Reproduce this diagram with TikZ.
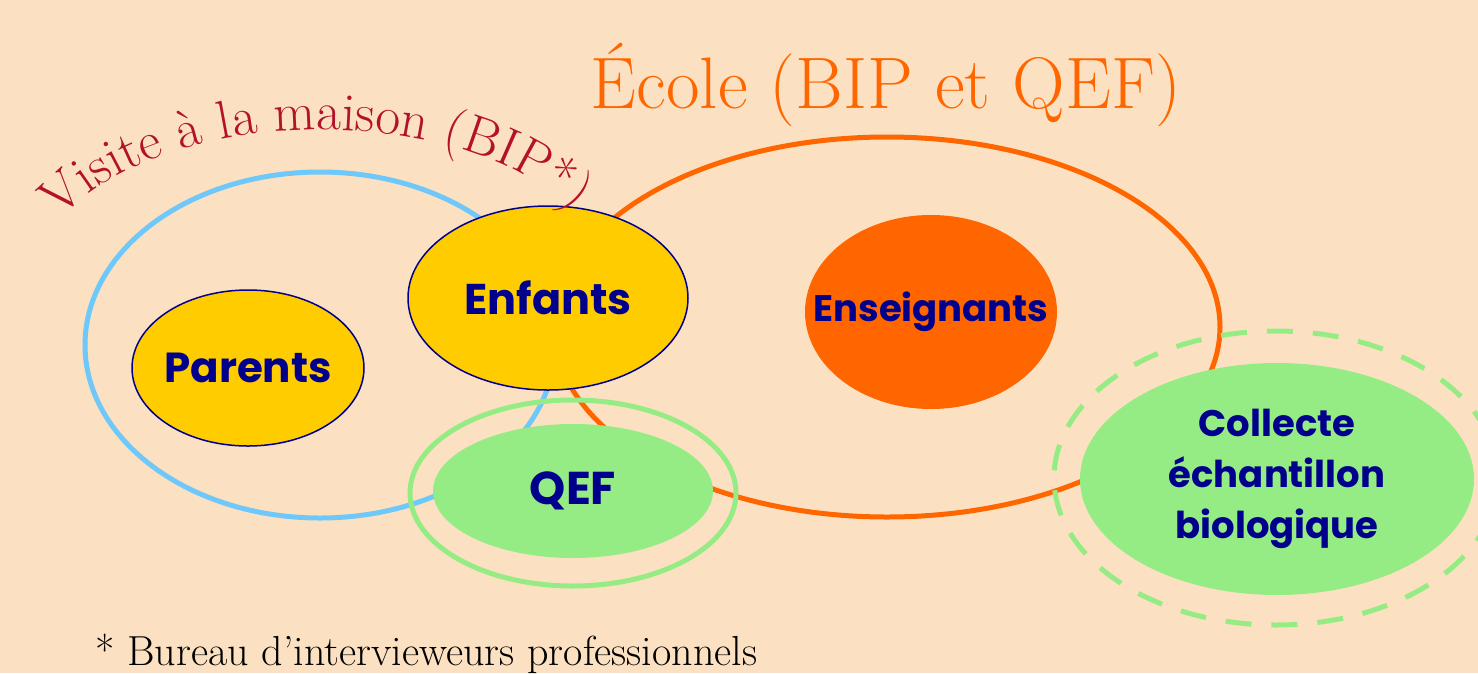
\documentclass[tikz,border=0pt]{standalone}
\usepackage{fontspec}
\usepackage{xcolor}
\usetikzlibrary{shapes.geometric, decorations.text}
\newfontfamily\labelfont{Poppins}
\definecolor{peach}{RGB}{251,225,193}
\definecolor{skyline}{RGB}{110,200,250}
\definecolor{ecoleorange}{RGB}{255,102,0}
\definecolor{goldfill}{RGB}{255,204,0}
\definecolor{inkblue}{RGB}{0,0,140}
\definecolor{leafgreen}{RGB}{150,236,132}
\definecolor{visitred}{RGB}{180,18,40}

\begin{document}
\begin{tikzpicture}[x=1pt, y=-1pt,
        group/.style={ellipse, inner sep=0pt, line width=5pt},
        blob/.style={ellipse, inner sep=0pt},
        blobtext/.style={text=inkblue, font=\labelfont\bfseries\fontsize{43}{50}\selectfont, align=center}]
        %\tikzset{ring/.style={dashed}}
        \useasboundingbox[fill=peach] (0,0) rectangle (1478,673);

        \node[group, draw=skyline, minimum width=470, minimum height=346] (maison) at (320,345) {};
        \node[group, draw=ecoleorange, minimum width=666, minimum height=380] (ecole) at (887,327) {};

        \node[blob, fill=ecoleorange, minimum width=252, minimum height=194,
            label={[blobtext, font=\labelfont\bfseries\fontsize{37}{44}\selectfont]center:Enseignants}] (enseignants) at (931,312) {};
        \node[blob, fill=goldfill, draw=inkblue, line width=1.5pt, minimum width=232, minimum height=156,
            label={[blobtext, font=\labelfont\bfseries\fontsize{42}{50}\selectfont]center:Parents}] (parents) at (248,368) {};
        \node[blob, fill=goldfill, draw=inkblue, line width=1.5pt, minimum width=280, minimum height=184,
            label={[blobtext]center:Enfants}] (enfants) at (548,298) {};

        \node[blob, fill=leafgreen, minimum width=280, minimum height=134,
            label={[blobtext, font=\labelfont\bfseries\fontsize{46}{50}\selectfont]center:QEF}] (qef) at (573,491) {};
        \node[group, draw=leafgreen, minimum width=326, minimum height=186] (qefring) at (573,493) {};

        \node[blob, fill=leafgreen, minimum width=394, minimum height=232,
            label={[blobtext, font=\labelfont\bfseries\fontsize{37}{51}\selectfont]center:Collecte\\ échantillon\\ biologique}] (collecte) at (1277,479) {};
        \node[group, draw=leafgreen, dash pattern=on 26pt off 20pt, minimum width=444, minimum height=294] (collectering) at (1276,478) {};

        \node[anchor=base, text=ecoleorange, font=\fontsize{73}{73}\selectfont] (titre) at (886,108) {École (BIP et QEF)};
        \path[decorate, decoration={text along path, text align=center,
            text={|\fontsize{54}{54}\selectfont\color{visitred}|Visite à la maison (BIP*)}}]
            (56,224) .. controls (160,100) and (470,100) .. (578,216);
        \node[anchor=base west, font=\fontsize{42}{42}\selectfont] (note) at (92,665) {* Bureau d’intervieweurs professionnels};
\end{tikzpicture}
\end{document}
